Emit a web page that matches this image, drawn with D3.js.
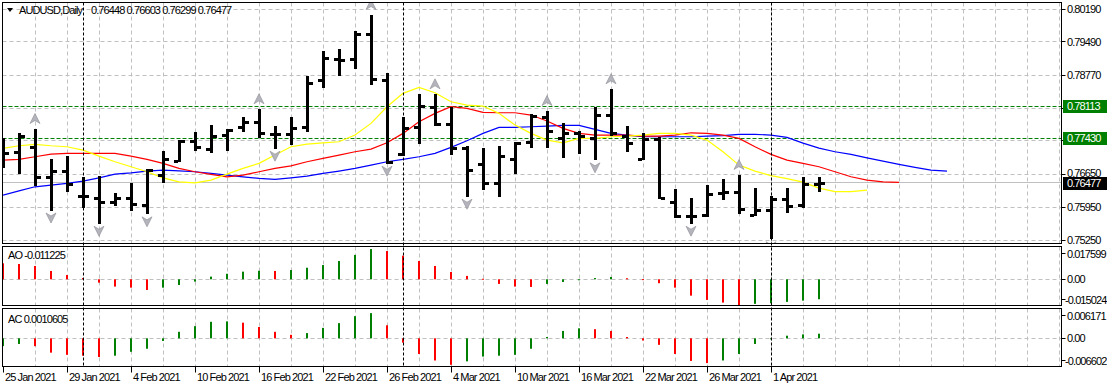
<!DOCTYPE html>
<html><head><meta charset="utf-8">
<script src="https://cdn.jsdelivr.net/npm/d3@7"></script>
<style>
body{margin:0;background:#fff;overflow:hidden}
svg{display:block}
text{font-family:"Liberation Sans",Arial,sans-serif;font-size:11px;letter-spacing:-0.9px;fill:#000}
</style></head>
<body><svg id="c" width="1107" height="388"></svg>
<script>
// ---------- data ----------
const dates = ["2021-01-25","2021-01-26","2021-01-27","2021-01-28","2021-01-29","2021-02-01","2021-02-02","2021-02-03","2021-02-04","2021-02-05",
"2021-02-08","2021-02-09","2021-02-10","2021-02-11","2021-02-12","2021-02-15","2021-02-16","2021-02-17","2021-02-18","2021-02-19",
"2021-02-22","2021-02-23","2021-02-24","2021-02-25","2021-02-26","2021-03-01","2021-03-02","2021-03-03","2021-03-04","2021-03-05",
"2021-03-08","2021-03-09","2021-03-10","2021-03-11","2021-03-12","2021-03-15","2021-03-16","2021-03-17","2021-03-18","2021-03-19",
"2021-03-22","2021-03-23","2021-03-24","2021-03-25","2021-03-26","2021-03-29","2021-03-30","2021-03-31","2021-04-01","2021-04-02",
"2021-04-05","2021-04-06"];
const open  = [0.77200,0.77132,0.77237,0.76604,0.76736,0.76191,0.76148,0.76069,0.76148,0.75988,0.76647,0.76940,0.77367,0.77203,0.77485,0.77667,0.77767,0.77517,0.77510,0.77673,0.78672,0.79121,0.79114,0.79649,0.78672,0.77089,0.77673,0.78101,0.77724,0.77211,0.76869,0.76476,0.76976,0.77339,0.77874,0.77425,0.77532,0.77425,0.77923,0.77474,0.76982,0.77404,0.76069,0.75763,0.75785,0.76255,0.76270,0.75785,0.75892,0.76121,0.75999,0.76448];
const high  = [0.77431,0.77538,0.77624,0.76976,0.77046,0.76597,0.76619,0.76255,0.76469,0.76762,0.77143,0.77378,0.77560,0.77699,0.77624,0.77874,0.78045,0.77694,0.77874,0.78757,0.79298,0.79328,0.79720,0.80062,0.78815,0.77874,0.78366,0.78366,0.78101,0.77267,0.77224,0.77267,0.77352,0.77944,0.78009,0.77746,0.77581,0.78088,0.78473,0.77694,0.77545,0.77459,0.76334,0.76142,0.76426,0.76548,0.76640,0.76356,0.76191,0.76356,0.76591,0.76603];
const low   = [0.76811,0.76683,0.76426,0.75902,0.76304,0.75963,0.75620,0.76005,0.75881,0.75821,0.76497,0.76933,0.77164,0.77139,0.77164,0.77581,0.77446,0.77224,0.77297,0.77587,0.78528,0.78779,0.78935,0.78580,0.76903,0.77068,0.77331,0.77709,0.77083,0.76197,0.76341,0.76197,0.76676,0.77233,0.77233,0.77032,0.77104,0.76976,0.77495,0.77160,0.76976,0.76142,0.75748,0.75620,0.75763,0.76137,0.75838,0.75774,0.75287,0.75855,0.75955,0.76299];
const close = [0.77117,0.77474,0.76604,0.76736,0.76448,0.76191,0.76069,0.76148,0.76020,0.76747,0.76989,0.77367,0.77239,0.77474,0.77592,0.77767,0.77545,0.77517,0.77652,0.78601,0.79136,0.79110,0.79649,0.78693,0.76925,0.77652,0.78116,0.77731,0.77224,0.76747,0.76476,0.77053,0.77331,0.77908,0.77581,0.77532,0.77474,0.77923,0.77545,0.77331,0.77404,0.76155,0.75763,0.75763,0.76234,0.76270,0.75907,0.75892,0.76121,0.75977,0.76441,0.76477];

// Alligator lines (index 0 = first visible bar, extending past the last bar)
const lips  = [0.77209,0.77265,0.77295,0.77265,0.77244,0.77173,0.77045,0.76923,0.76816,0.76709,0.76580,0.76495,0.76473,0.76531,0.76659,0.76781,0.76888,0.77066,0.77244,0.77301,0.77329,0.77351,0.77494,0.77744,0.78100,0.78386,0.78515,0.78399,0.78207,0.78136,0.78115,0.77958,0.77708,0.77530,0.77387,0.77329,0.77423,0.77423,0.77458,0.77473,0.77494,0.77530,0.77530,0.77494,0.77387,0.77137,0.76852,0.76724,0.76627,0.76563,0.76488,0.76360,0.76285,0.76285,0.76317];
const teeth = [0.76959,0.76974,0.77030,0.77087,0.77102,0.77102,0.77102,0.77102,0.77045,0.76974,0.76888,0.76781,0.76709,0.76653,0.76602,0.76638,0.76709,0.76781,0.76837,0.76923,0.76995,0.77066,0.77137,0.77194,0.77329,0.77530,0.77779,0.77958,0.78100,0.78065,0.77980,0.77971,0.77971,0.77922,0.77794,0.77637,0.77530,0.77494,0.77494,0.77494,0.77473,0.77473,0.77494,0.77543,0.77530,0.77494,0.77423,0.77244,0.77081,0.76959,0.76888,0.76816,0.76709,0.76602,0.76531,0.76495,0.76482];
const jaw   = [0.76210,0.76302,0.76388,0.76424,0.76460,0.76510,0.76580,0.76659,0.76687,0.76724,0.76745,0.76730,0.76709,0.76674,0.76638,0.76602,0.76567,0.76546,0.76580,0.76617,0.76674,0.76724,0.76781,0.76852,0.76923,0.76974,0.77030,0.77102,0.77231,0.77372,0.77530,0.77659,0.77659,0.77672,0.77687,0.77702,0.77702,0.77616,0.77530,0.77494,0.77458,0.77458,0.77458,0.77458,0.77473,0.77483,0.77509,0.77509,0.77494,0.77445,0.77323,0.77216,0.77137,0.77081,0.77008,0.76938,0.76867,0.76803,0.76745,0.76724];

// fractals (bar indices)
const fractalUp   = [2,16,23,27,34,38,46];
const fractalDown = [3,6,9,17,24,29,37,43,48];

// oscillators: first value belongs to the bar before the first visible one
const ao = [0.0095,0.0090,0.0086,0.0075,0.0047,0.0024,0.0007,-0.0019,-0.0041,-0.0047,-0.0060,-0.0047,-0.0032,-0.0013,0.0015,0.0031,0.0043,0.0048,0.0047,0.0052,0.0065,0.0080,0.0103,0.0137,0.0170,0.0159,0.0133,0.0103,0.0075,0.0041,0.0019,0.0003,-0.0026,-0.0041,-0.0043,-0.0026,-0.0015,-0.0004,0.0007,0.0013,0.0006,0.0001,-0.0022,-0.0047,-0.0092,-0.0116,-0.0131,-0.0145,-0.0138,-0.0135,-0.0127,-0.0120,-0.011225];
const ac = [-0.0022,-0.0018,-0.0013,-0.0018,-0.0033,-0.0038,-0.0040,-0.0043,-0.0040,-0.0031,-0.0024,-0.0006,0.0015,0.0028,0.0038,0.0039,0.0036,0.0026,0.0015,0.0008,0.0012,0.0024,0.0035,0.0051,0.0058,0.0030,-0.0010,-0.0036,-0.0051,-0.0061,-0.0053,-0.0042,-0.0040,-0.0038,-0.0024,0.0003,0.0017,0.0023,0.0021,0.0017,0.0003,-0.0005,-0.0015,-0.0036,-0.0052,-0.0057,-0.0051,-0.0036,-0.0013,-0.0001,0.0006,0.0009,0.0010605];

const priceTicks = [0.80190,0.79490,0.78770,0.78070,0.77370,0.76650,0.75950,0.75250];
const levels = [0.78113,0.77430];
const bid = 0.76477;
const dateTicks = ["2021-01-25","2021-01-29","2021-02-04","2021-02-10","2021-02-16","2021-02-22","2021-02-26","2021-03-04","2021-03-10","2021-03-16","2021-03-22","2021-03-26","2021-04-01"];
const separators = ["2021-02-01","2021-03-01","2021-04-01"];
const aoTicks = [0.017599,0,-0.015024];
const acTicks = [0.006171,0,-0.006602];
const symbol = "AUDUSD,Daily";

// ---------- scales ----------
const svg = d3.select("#c");
const L = 2.5, R = 1061.5;
const P = [{t:2.5,b:243.5},{t:246.5,b:305.5},{t:308.5,b:366.5}];
const x = d3.scaleLinear().domain([0,66]).range([3,1059]);
const y = d3.scaleLinear().domain([0.75250,0.80190]).range([240,9]);
const yAO = d3.scaleLinear().domain([-0.015024,0.017599]).range([306,248]);
const yAC = d3.scaleLinear().domain([-0.006602,0.006171]).range([367,311.5]);
const idx = d => dates.indexOf(d);
const fmtDate = d3.timeFormat("%-d %b %Y");
const parse = d3.timeParse("%Y-%m-%d");
const crisp = v => Math.round(v - 0.5) + 0.5;

svg.append("rect").attr("width",1107).attr("height",388).attr("fill","#fff");
const defs = svg.append("defs");
P.forEach((p,k)=>{
  defs.append("clipPath").attr("id","clip"+k).append("rect")
    .attr("x",L+0.5).attr("y",p.t+0.5).attr("width",R-L-1).attr("height",p.b-p.t-1);
});

// ---------- grids ----------
const gridX = d3.range(2,67,2).map(i=>crisp(x(i))).filter(v=>v<R);
P.forEach((p,k)=>{
  const g = svg.append("g").attr("clip-path",`url(#clip${k})`);
  g.selectAll("line.v").data(gridX).join("line")
    .attr("x1",d=>d).attr("x2",d=>d).attr("y1",p.t).attr("y2",p.b)
    .attr("stroke","#c0c0c0").attr("stroke-dasharray","4,3");
});
const gMain = svg.append("g").attr("clip-path","url(#clip0)");
gMain.selectAll("line.h").data(priceTicks).join("line")
  .attr("x1",L).attr("x2",R).attr("y1",d=>crisp(y(d))).attr("y2",d=>crisp(y(d)))
  .attr("stroke","#c0c0c0").attr("stroke-dasharray","4,3");
const gAO = svg.append("g").attr("clip-path","url(#clip1)");
gAO.append("line").attr("x1",L).attr("x2",R).attr("y1",crisp(yAO(0))).attr("y2",crisp(yAO(0)))
  .attr("stroke","#c0c0c0").attr("stroke-dasharray","4,3");
const gAC = svg.append("g").attr("clip-path","url(#clip2)");
gAC.append("line").attr("x1",L).attr("x2",R).attr("y1",crisp(yAC(0))).attr("y2",crisp(yAC(0)))
  .attr("stroke","#c0c0c0").attr("stroke-dasharray","4,3");

// month separators
svg.selectAll("line.sep").data(separators).join("line")
  .attr("x1",d=>crisp(x(idx(d)))).attr("x2",d=>crisp(x(idx(d))))
  .attr("y1",P[0].t).attr("y2",P[2].b)
  .attr("stroke","#000").attr("stroke-dasharray","3,2");

// bid & level lines
gMain.append("line").attr("x1",L).attr("x2",R).attr("y1",crisp(y(bid))).attr("y2",crisp(y(bid)))
  .attr("stroke","#c0c0c0");
gMain.selectAll("line.lv").data(levels).join("line")
  .attr("x1",L).attr("x2",R).attr("y1",d=>crisp(y(d))).attr("y2",d=>crisp(y(d)))
  .attr("stroke","#008000").attr("stroke-dasharray","4,2");

// alligator
const line = d3.line().x((d,i)=>x(i)).y(d=>y(d));
[[jaw,"#0000ff"],[teeth,"#ff0000"],[lips,"#ffff00"]].forEach(([s,c])=>{
  gMain.append("path").attr("d",line(s)).attr("fill","none").attr("stroke",c).attr("stroke-width",1.2);
});

// OHLC bars
const bars = gMain.selectAll("g.bar").data(dates).join("g");
bars.append("rect").attr("x",(d,i)=>Math.round(x(i))-1).attr("width",3)
  .attr("y",(d,i)=>Math.round(y(high[i]))).attr("height",(d,i)=>Math.max(2,Math.round(y(low[i]))-Math.round(y(high[i]))+1))
  .attr("fill","#000");
bars.append("rect").attr("x",(d,i)=>Math.round(x(i))-5).attr("width",4)
  .attr("y",(d,i)=>Math.round(y(open[i]))-1).attr("height",3).attr("fill","#000");
bars.append("rect").attr("x",(d,i)=>Math.round(x(i))+2).attr("width",4)
  .attr("y",(d,i)=>Math.round(y(close[i]))-1).attr("height",3).attr("fill","#000");

// fractals
const upPath = "M0,-5 L5,5 L0,2 L-5,5 Z";
const dnPath = "M0,5 L5,-5 L0,-2 L-5,-5 Z";
gMain.selectAll("path.fu").data(fractalUp).join("path")
  .attr("d",upPath).attr("transform",i=>`translate(${x(i)},${y(high[i])-10.5})`)
  .attr("fill","#b4b4bc").attr("stroke","#8c8c94").attr("stroke-width",0.6);
gMain.selectAll("path.fd").data(fractalDown).join("path")
  .attr("d",dnPath).attr("transform",i=>`translate(${x(i)},${y(low[i])+8.5})`)
  .attr("fill","#b4b4bc").attr("stroke","#8c8c94").attr("stroke-width",0.6);

// oscillator histograms
function hist(g, vals, sc){
  const z = sc(0);
  g.selectAll("rect.h").data(vals).join("rect")
    .attr("x",(d,k)=>Math.round(x(k-1))-1).attr("width",2)
    .attr("y",d=>Math.min(sc(d),z)).attr("height",d=>Math.max(1,Math.abs(sc(d)-z)))
    .attr("fill",(d,k)=> k===0 ? "#ff0000" : (d>vals[k-1] ? "#008000" : "#ff0000"));
}
hist(gAO, ao, yAO);
hist(gAC, ac, yAC);

// ---------- frames ----------
P.forEach(p=>{
  svg.append("rect").attr("x",L).attr("y",p.t).attr("width",R-L).attr("height",p.b-p.t)
    .attr("fill","none").attr("stroke","#000");
});

// ---------- right axis ----------
const boxed = levels.concat([bid]);
svg.selectAll("line.pt").data(priceTicks).join("line")
  .attr("x1",R).attr("x2",R+4).attr("y1",d=>crisp(y(d))).attr("y2",d=>crisp(y(d))).attr("stroke","#000");
// labels fully covered by a price box are not drawn; labels just touching a box are nudged away
const shownTicks = priceTicks.filter(d=>!boxed.some(b=>Math.abs(y(b)-y(d))<6));
svg.selectAll("text.pt").data(shownTicks).join("text")
  .attr("x",1067).attr("y",d=>{
    let yy = y(d)+4;
    boxed.forEach(b=>{ const dy = y(b)-y(d); if(dy>=6 && dy<12) yy -= (12-dy)*0.5; });
    return yy;
  }).text(d=>d.toFixed(5));
function box(v, fill){
  const yy = Math.round(y(v));
  svg.append("rect").attr("x",1063).attr("y",yy-6).attr("width",44).attr("height",13).attr("fill",fill);
  svg.append("text").attr("x",1067).attr("y",yy+4).style("fill","#fff").text(v.toFixed(5));
}
levels.forEach(v=>box(v,"#008000"));
box(bid,"#000");

function oscAxis(ticks, sc, p){
  ticks.forEach((v,k)=>{
    let yy = sc(v);
    if(k===0) yy = p.t+7; if(k===2) yy = p.b-6;
    svg.append("line").attr("x1",R).attr("x2",R+4).attr("y1",crisp(yy)).attr("y2",crisp(yy)).attr("stroke","#000");
    svg.append("text").attr("x",v<0?1065:1067).attr("y",yy+4).text(v===0?"0.00":v.toFixed(6));
  });
}
oscAxis(aoTicks, yAO, P[1]);
oscAxis(acTicks, yAC, P[2]);

// ---------- date axis ----------
dateTicks.forEach(d=>{
  const xx = crisp(x(idx(d)));
  svg.append("line").attr("x1",xx).attr("x2",xx).attr("y1",P[2].b).attr("y2",P[2].b+6).attr("stroke","#000");
  svg.append("text").attr("x",xx+1.5).attr("y",381).text(fmtDate(parse(d)));
});

// ---------- titles ----------
svg.append("path").attr("d","M7,8 L13,8 L10,12 Z").attr("fill","#000");
const last = dates.length-1;
svg.append("text").attr("x",19).attr("y",14).text(symbol);
svg.append("text").attr("x",91).attr("y",14)
  .text([open[last],high[last],low[last],close[last]].map(v=>v.toFixed(5)).join(" "));
svg.append("text").attr("x",8).attr("y",258.5).text("AO " + ao[ao.length-1].toFixed(6));
svg.append("text").attr("x",8).attr("y",322.5).text("AC " + ac[ac.length-1].toFixed(7));
</script></body></html>
